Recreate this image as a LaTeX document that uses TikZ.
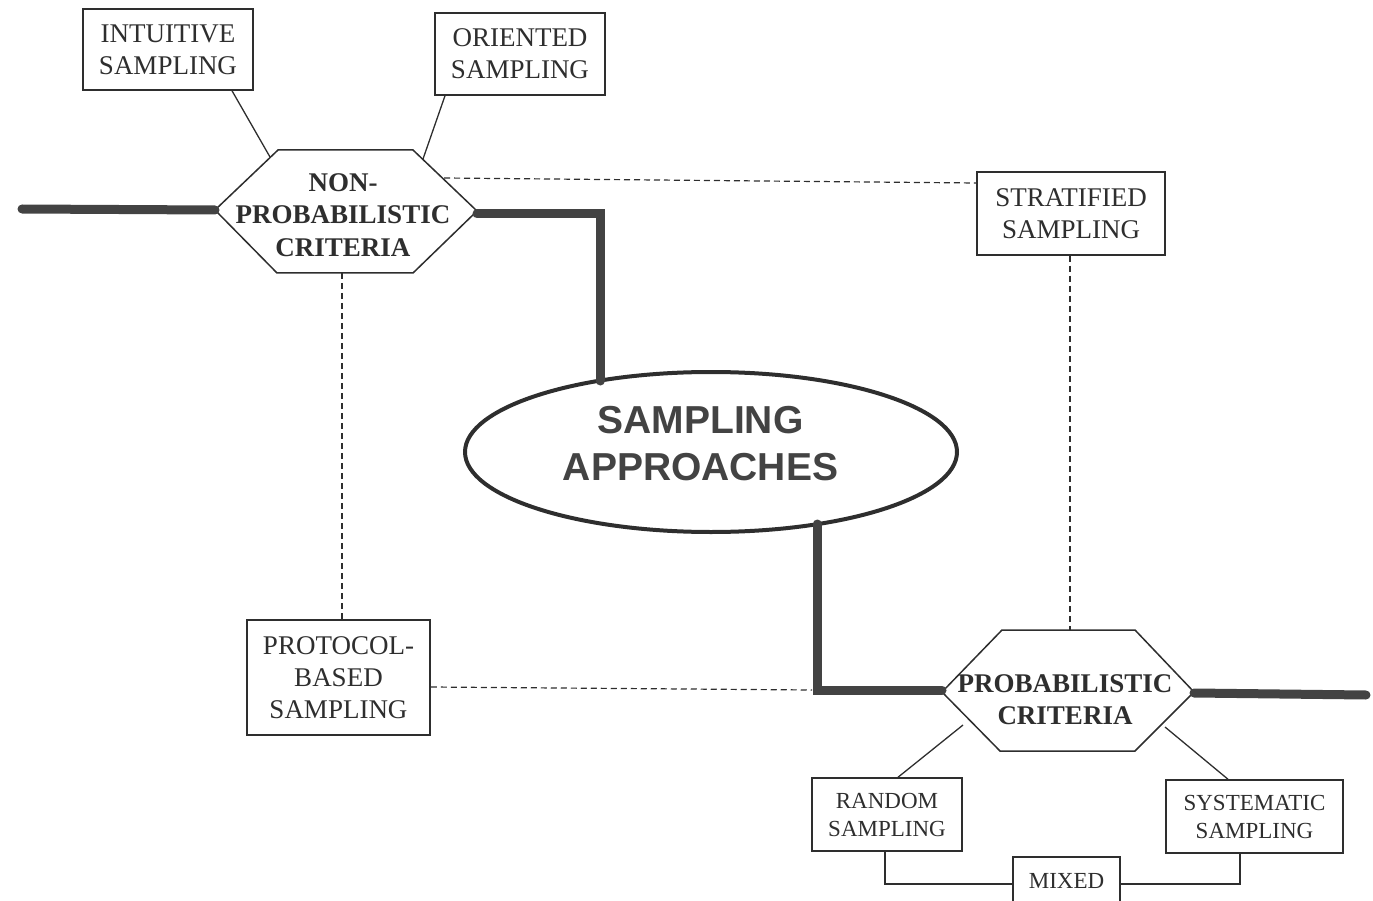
\documentclass[tikz,border=0pt]{standalone}
\usepackage{fontspec}
\setmainfont{Liberation Serif}
\newfontfamily\headsans{Liberation Sans}
\usetikzlibrary{shapes.geometric}
\definecolor{ink}{HTML}{2E2E2E}
\begin{document}
\begin{tikzpicture}[x=1pt,y=-1pt,
  box/.style={draw=ink, line width=1.5pt, fill=white, text=ink, align=center,
    inner sep=0pt, font=\fontsize{27}{32}\selectfont},
  smallbox/.style={box, font=\fontsize{23}{28}\selectfont},
  hextext/.style={text=ink, align=center, inner sep=0pt,
    font=\fontsize{27}{32.5}\selectfont\bfseries},
  hexline/.style={draw=ink, line width=1.5pt, line join=miter},
  link/.style={draw=ink, line width=1.3pt},
  dotted link/.style={draw=ink, line width=1.2pt, dash pattern=on 6pt off 4pt},
  trunk/.style={draw=ink!90, line width=9pt, line cap=round, line join=miter},
]
\useasboundingbox (0,0) rectangle (1373,901);

% leaf boxes
\node[box, minimum width=170pt, minimum height=81pt] (intu) at (168,49.5) {INTUITIVE\\SAMPLING};
\node[box, minimum width=170pt, minimum height=82pt] (orie) at (520,54) {ORIENTED\\SAMPLING};
\node[box, minimum width=188pt, minimum height=83pt] (stra) at (1071,213.5) {STRATIFIED\\SAMPLING};
\node[box, minimum width=183pt, minimum height=115pt] (prot) at (338.5,677.5) {PROTOCOL-\\BASED\\SAMPLING};
\node[smallbox, minimum width=150pt, minimum height=73pt] (rand) at (887,814.5) {RANDOM\\SAMPLING};
\node[smallbox, minimum width=177pt, minimum height=73pt] (syst) at (1254.5,816.5) {SYSTEMATIC\\SAMPLING};
\node[smallbox, minimum width=107pt, minimum height=48pt] (mixd) at (1066.5,881) {MIXED};

% non-probabilistic hexagon
\draw[hexline, fill=white] (215,210) coordinate (npW) -- (278,150) -- (413,150)
  -- (477,211) coordinate (npE) -- (413,273) -- (277,273) -- cycle;
\node[hextext] (nonp) at (343,215) {NON-\\PROBABILISTIC\\CRITERIA};

% probabilistic hexagon
\draw[hexline, fill=white] (942,692) coordinate (pW) -- (1002,630) -- (1135,630)
  -- (1194,692) coordinate (pE) -- (1135,751) -- (1000,751) -- cycle;
\node[hextext] (prob) at (1065,699.5) {PROBABILISTIC\\CRITERIA};

% central ellipse
\node[ellipse, draw=ink, line width=4pt, minimum width=492pt, minimum height=160pt,
  inner sep=0pt] (ell) at (711,452) {};
\node[text=ink!90, align=center, inner sep=0pt,
  font=\headsans\fontsize{39}{47}\selectfont\bfseries] (ellt) at (700.5,443.5)
  {SAMPLING\\APPROACHES};

% anchor points on the hexagons and the ellipse
\coordinate (npUL) at (270,157);
\coordinate (npUR) at (423,159);
\coordinate (npDash) at (444,178);
\coordinate (npBot) at (342,273);
\coordinate (pTop) at (1070,630);
\coordinate (pLL) at (963,725);
\coordinate (pLR) at (1165,727);
\coordinate (ellTop) at (600,381);
\coordinate (ellBot) at (817,524);
\coordinate (leftEnd) at (22,209);
\coordinate (rightEnd) at (1366,695);

% heavy trunk
\draw[trunk] (leftEnd) -- (npW);
\draw[trunk] (npE |- 0,214) -- (600,214) -- (ellTop);
\draw[trunk] (ellBot) -- (817,690) -- (pW |- 0,690);
\draw[trunk] (pE |- 0,693) -- (rightEnd);

% solid connectors
\draw[link] (intu.south -| 232,0) -- (npUL);
\draw[link] (orie.south -| 445,0) -- (npUR);
\draw[link] (pLL) -- (rand.north -| 898,0);
\draw[link] (pLR) -- (syst.north -| 1228,0);
\draw[link] (rand.south -| 885,0) -- (885,884) -- (mixd.west |- 0,884);
\draw[link] (mixd.east |- 0,884) -- (1240,884) -- (syst.south -| 1240,0);

% dashed connectors
\draw[dotted link] (npDash) -- (stra.west |- 0,183);
\draw[dotted link] (stra.south -| pTop) -- (pTop);
\draw[dotted link] (npBot) -- (prot.north -| npBot);
\draw[dotted link] (prot.east |- 0,687) -- (812,690);
\end{tikzpicture}
\end{document}
